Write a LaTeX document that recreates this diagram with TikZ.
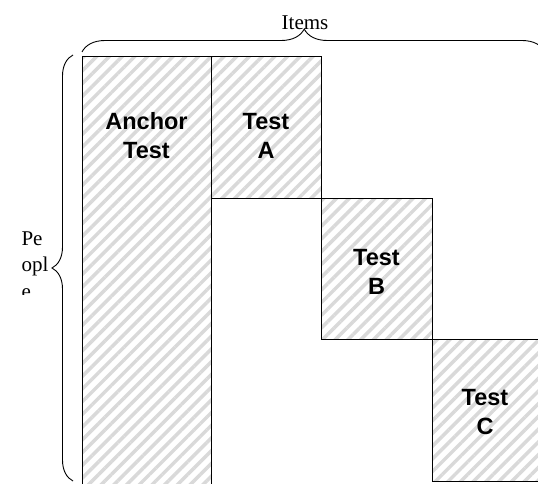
\documentclass[tikz,border=0pt]{standalone}
\usepackage{fontspec}
\setmainfont{Liberation Serif}
\newfontfamily\arialfont{Liberation Sans}
\usetikzlibrary{patterns.meta,decorations.pathreplacing}

\tikzset{
  hatched/.style={pattern={Lines[angle=45,distance=9pt,line width=3.5pt]},
    pattern color=black!15},
  testtext/.style={font=\arialfont\bfseries\fontsize{23.5}{29}\selectfont,
    align=center,inner sep=0pt},
  sidetext/.style={font=\fontsize{21}{26.5}\selectfont,inner sep=0pt},
  bracket/.style={decorate,decoration={brace,amplitude=#1},line width=0.9pt},
}

\begin{document}
\begin{tikzpicture}[x=1pt,y=-1pt,line width=1pt]
  \useasboundingbox (0,0) rectangle (538,484);
  \clip (0,0) rectangle (538,484);

  % The hatched blocks, one per test.  Anchor and C run off the page.
  \fill[hatched] (82,57) rectangle (211,490)
    (211,57) rectangle (321,198)
    (321,198) rectangle (432,339)
    (432,339) rectangle (545,481);
  \draw (82,57) rectangle (211,490);
  \draw (211,57) rectangle (321,198);
  \draw (321,198) rectangle (432,339);
  \draw (432,339) rectangle (545,481);

  % The block labels.
  \node[testtext] (anchor) at (146.5,136) {Anchor\\Test};
  \node[testtext] (testa) at (266,136) {Test\\A};
  \node[testtext] (testb) at (376.5,272) {Test\\B};
  \node[testtext] (testc) at (485,412) {Test\\C};

  % The braces round the grid.
  \coordinate (itemsl) at (82,52);
  \coordinate (itemsr) at (545,52);
  \coordinate (peoplet) at (73,55);
  \coordinate (peopleb) at (73,481);
  \draw[bracket=23pt,decoration={aspect=0.48}] (itemsl) -- (itemsr);
  \draw[bracket=21pt] (peopleb) -- (peoplet);

  \node[sidetext,anchor=base] (items) at (305,30) {Items};

  % The side label is cut off in a narrow box.
  \begin{scope}
    \clip (0,200) rectangle (60,294);
    \node[sidetext,align=left,anchor=north west] (people) at (21,231)
      {Pe\\opl\\e};
  \end{scope}
\end{tikzpicture}
\end{document}
